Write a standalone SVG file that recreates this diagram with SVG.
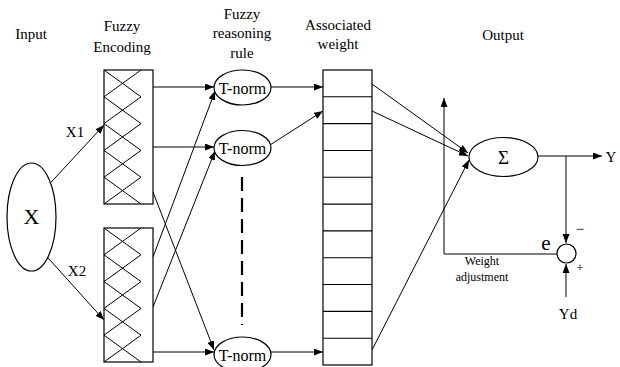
<svg xmlns="http://www.w3.org/2000/svg" width="620" height="367" viewBox="0 0 620 367">
<style>
  text { font-family: "Liberation Serif", "Times New Roman", serif; fill: #000; }
  .hdr { font-size: 15px; text-anchor: middle; }
  .lbl { font-size: 15px; text-anchor: middle; }
  .shape { fill: #fff; stroke: #000; stroke-width: 1.2; }
  .zz { fill: none; stroke: #000; stroke-width: 1; }
  .row { stroke: #000; stroke-width: 1.1; }
  .conn { fill: none; stroke: #000; stroke-width: 1; }
  .arr { marker-end: url(#ah); }
  .dash { stroke: #000; stroke-width: 2.2; stroke-dasharray: 14 7; }
</style>
<defs>
  <marker id="ah" markerUnits="userSpaceOnUse" markerWidth="9" markerHeight="7" refX="9" refY="3.5" orient="auto">
    <path d="M0,0 L9,3.5 L0,7 z" fill="#000"/>
  </marker>
</defs>

<!-- headers -->
<text class="hdr" x="31" y="39">Input</text>
<text class="hdr" x="122" y="31">Fuzzy</text>
<text class="hdr" x="122" y="52">Encoding</text>
<text class="hdr" x="242" y="18.5">Fuzzy</text>
<text class="hdr" x="242" y="38">reasoning</text>
<text class="hdr" x="242" y="58">rule</text>
<text class="hdr" x="338" y="30">Associated</text>
<text class="hdr" x="338" y="49">weight</text>
<text class="hdr" x="503" y="40">Output</text>

<!-- connectors -->
<g id="connectors">
  <line class="conn arr" x1="43" y1="191" x2="104" y2="125"/>
  <line class="conn arr" x1="40" y1="249" x2="104" y2="320"/>
  <line class="conn arr" x1="153" y1="87" x2="214" y2="87"/>
  <line class="conn arr" x1="153" y1="147" x2="214" y2="147"/>
  <line class="conn arr" x1="153" y1="192" x2="214" y2="350"/>
  <line class="conn arr" x1="153" y1="257" x2="215" y2="91"/>
  <line class="conn arr" x1="153" y1="307" x2="215" y2="151"/>
  <line class="conn arr" x1="153" y1="352" x2="214" y2="352"/>
  <line class="conn arr" x1="271" y1="87" x2="323" y2="87"/>
  <line class="conn arr" x1="270" y1="145" x2="323" y2="111"/>
  <line class="conn arr" x1="271" y1="352" x2="323" y2="352"/>
  <line class="conn arr" x1="372" y1="84" x2="468" y2="153"/>
  <line class="conn arr" x1="372" y1="111" x2="468" y2="156"/>
  <line class="conn arr" x1="372" y1="350" x2="469" y2="160"/>
  <line class="conn arr" x1="538" y1="156" x2="602" y2="156"/>
  <line class="conn arr" x1="566" y1="156" x2="566" y2="243"/>
  <line class="conn arr" x1="566" y1="297" x2="566" y2="264"/>
  <polyline class="conn arr" points="557,254 444,254 444,98"/>
  <line class="dash" x1="242" y1="177" x2="242" y2="325"/>
</g>

<!-- input node -->
<g id="input">
  <ellipse class="shape" cx="31.5" cy="217" rx="24.5" ry="54"/>
  <text x="31.5" y="224" font-size="22" text-anchor="middle">X</text>
</g>
<text class="lbl" x="75" y="137">X1</text>
<text class="lbl" x="77" y="276">X2</text>

<!-- fuzzy encoding boxes -->
<g id="enc1">
  <rect class="shape" x="104" y="70" width="49" height="134"/>
  <polyline class="zz" points="104,70 141,96.8 104,123.6 141,150.4 104,177.2 141,204"/>
  <polyline class="zz" points="141,70 104,96.8 141,123.6 104,150.4 141,177.2 104,204"/>
</g>
<g id="enc2">
  <rect class="shape" x="104" y="228" width="49" height="134"/>
  <polyline class="zz" points="104,228 141,254.8 104,281.6 141,308.4 104,335.2 141,362"/>
  <polyline class="zz" points="141,228 104,254.8 141,281.6 104,308.4 141,335.2 104,362"/>
</g>

<!-- T-norm nodes -->
<g id="tnorm1">
  <ellipse class="shape" cx="242.5" cy="87.5" rx="28.5" ry="17.5"/>
  <text x="242.5" y="93.5" font-size="16" text-anchor="middle">T-norm</text>
</g>
<g id="tnorm2">
  <ellipse class="shape" cx="242.5" cy="148" rx="28.5" ry="17.5"/>
  <text x="242.5" y="154" font-size="16" text-anchor="middle">T-norm</text>
</g>
<g id="tnorm3">
  <ellipse class="shape" cx="242.5" cy="354.5" rx="28.5" ry="17.5"/>
  <text x="242.5" y="360.5" font-size="16" text-anchor="middle">T-norm</text>
</g>

<!-- associated weight -->
<g id="assocweight">
  <rect class="shape" x="323" y="70" width="49" height="295"/>
  <line class="row" x1="323" y1="96.8" x2="372" y2="96.8"/>
  <line class="row" x1="323" y1="123.6" x2="372" y2="123.6"/>
  <line class="row" x1="323" y1="150.5" x2="372" y2="150.5"/>
  <line class="row" x1="323" y1="177.3" x2="372" y2="177.3"/>
  <line class="row" x1="323" y1="204.1" x2="372" y2="204.1"/>
  <line class="row" x1="323" y1="230.9" x2="372" y2="230.9"/>
  <line class="row" x1="323" y1="257.7" x2="372" y2="257.7"/>
  <line class="row" x1="323" y1="284.5" x2="372" y2="284.5"/>
  <line class="row" x1="323" y1="311.4" x2="372" y2="311.4"/>
  <line class="row" x1="323" y1="338.2" x2="372" y2="338.2"/>
</g>

<!-- sum -->
<g id="sum">
  <ellipse class="shape" cx="503.5" cy="157" rx="34.5" ry="19.5"/>
  <text x="503.5" y="163.5" font-size="19" text-anchor="middle" fill="#333">Σ</text>
</g>
<text class="lbl" x="611" y="162">Y</text>

<!-- error comparator -->
<g id="comparator">
  <circle class="shape" cx="566.5" cy="253.5" r="9.5"/>
</g>
<text x="546" y="250" font-size="21" text-anchor="middle">e</text>
<text x="580" y="234" font-size="15" text-anchor="middle">−</text>
<text x="580" y="272" font-size="13" text-anchor="middle">+</text>
<text class="lbl" x="568" y="319">Yd</text>

<text x="482" y="265" font-size="12" text-anchor="middle" fill="#222">Weight</text>
<text x="482" y="281" font-size="12" text-anchor="middle" fill="#222">adjustment</text>
</svg>
